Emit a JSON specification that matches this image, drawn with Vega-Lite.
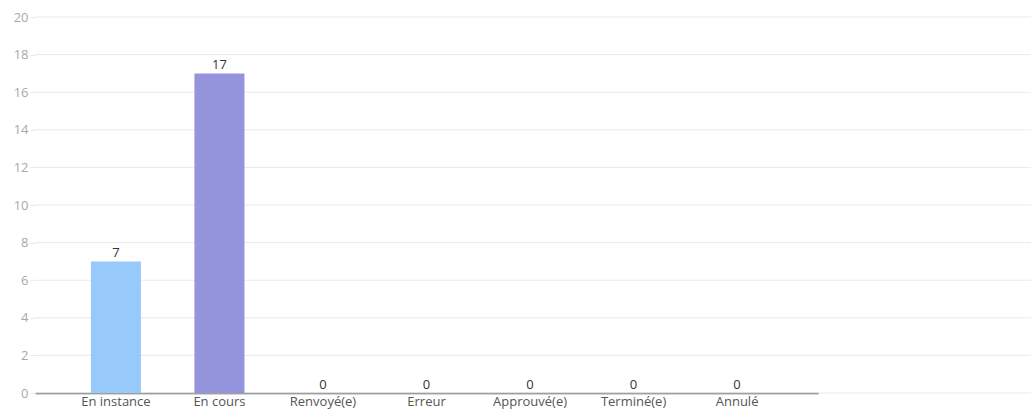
{
  "$schema": "https://vega.github.io/schema/vega-lite/v6.json",
  "autosize": "none",
  "width": 996,
  "height": 376,
  "padding": {"left": 35, "top": 17, "right": 0, "bottom": 16},
  "background": "white",
  "config": {
    "view": {"stroke": null},
    "font": "Open Sans",
    "axisY": {
      "title": null,
      "grid": false,
      "domain": false,
      "labelOverlap": false,
      "tickColor": "#e6ebee",
      "tickSize": 5,
      "labelColor": "#a8a8a8",
      "labelFontSize": 13,
      "labelPadding": 2
    }
  },
  "datasets": {
    "statuts": [
      {"statut": "En instance", "valeur": 7},
      {"statut": "En cours", "valeur": 17},
      {"statut": "Renvoyé(e)", "valeur": 0},
      {"statut": "Erreur", "valeur": 0},
      {"statut": "Approuvé(e)", "valeur": 0},
      {"statut": "Terminé(e)", "valeur": 0},
      {"statut": "Annulé", "valeur": 0}
    ],
    "grille": [
      {"v": 0}, {"v": 2}, {"v": 4}, {"v": 6}, {"v": 8}, {"v": 10},
      {"v": 12}, {"v": 14}, {"v": 16}, {"v": 18}, {"v": 20}
    ]
  },
  "layer": [
    {
      "data": {"name": "grille"},
      "mark": {"type": "rule", "color": "#e6ebee", "strokeWidth": 1},
      "encoding": {
        "y": {
          "field": "v",
          "type": "quantitative",
          "scale": {"domain": [0, 20], "nice": false},
          "axis": {"values": [0, 2, 4, 6, 8, 10, 12, 14, 16, 18, 20], "title": null}
        }
      }
    },
    {
      "data": {"name": "statuts"},
      "encoding": {
        "x": {
          "field": "statut",
          "type": "nominal",
          "sort": null,
          "scale": {"range": [0, 783], "paddingInner": 0.517, "paddingOuter": 0.54},
          "axis": {
            "title": null,
            "labelAngle": 0,
            "domainColor": "#555555",
            "domainWidth": 1.5,
            "ticks": false,
            "grid": false,
            "labelColor": "#555555",
            "labelFontSize": 13,
            "labelPadding": 2
          }
        },
        "y": {
          "field": "valeur",
          "type": "quantitative",
          "scale": {"domain": [0, 20], "nice": false},
          "axis": {"values": [0, 2, 4, 6, 8, 10, 12, 14, 16, 18, 20], "title": null}
        }
      },
      "layer": [
        {
          "mark": {"type": "bar"},
          "encoding": {
            "color": {
              "field": "statut",
              "type": "nominal",
              "sort": null,
              "scale": {
                "domain": ["En instance", "En cours", "Renvoyé(e)", "Erreur", "Approuvé(e)", "Terminé(e)", "Annulé"],
                "range": ["#97c9fa", "#9494dd", "#9fd0a0", "#f0a0a0", "#b0e0b0", "#f0c080", "#c0c0c0"]
              },
              "legend": null
            }
          }
        },
        {
          "mark": {"type": "text", "baseline": "bottom", "dy": -1, "fontSize": 13, "color": "#333333"},
          "encoding": {"text": {"field": "valeur", "type": "quantitative"}}
        }
      ]
    }
  ]
}
